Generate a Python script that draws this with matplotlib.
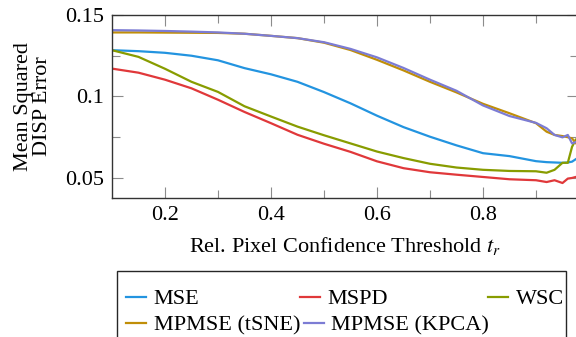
import numpy as np
import matplotlib
matplotlib.use('Agg')
import matplotlib.pyplot as plt
from matplotlib.patches import Rectangle

plt.rcParams['font.family'] = ['Liberation Serif', 'DejaVu Serif']
plt.rcParams['mathtext.fontset'] = 'stix'
plt.rcParams['font.size'] = 16

# threshold values (x)
thr = [0.10, 0.15, 0.20, 0.25, 0.30, 0.35, 0.40, 0.45, 0.50, 0.55, 0.60, 0.65,
       0.70, 0.75, 0.80, 0.85, 0.90, 0.92, 0.935, 0.95, 0.96, 0.968, 0.975]

mse = [0.1284, 0.1278, 0.1268, 0.1250, 0.1222, 0.1174, 0.1136, 0.1090, 0.1027, 0.0958,
       0.0882, 0.0812, 0.0753, 0.0700, 0.0652, 0.0634, 0.0603, 0.0597, 0.0595, 0.0593,
       0.0595, 0.0600, 0.0615]
mspd = [0.1171, 0.1146, 0.1103, 0.1050, 0.0980, 0.0905, 0.0836, 0.0765, 0.0710, 0.0660,
        0.0602, 0.0560, 0.0535, 0.0520, 0.0506, 0.0492, 0.0486, 0.0475, 0.0486, 0.0469,
        0.0496, 0.0500, 0.0506]
wsc = [0.1284, 0.1243, 0.1170, 0.1090, 0.1028, 0.0940, 0.0877, 0.0815, 0.0762, 0.0712,
       0.0662, 0.0622, 0.0587, 0.0564, 0.0550, 0.0543, 0.0541, 0.0532, 0.0550, 0.0593,
       0.0593, 0.0691, 0.0735]
mpmse_tsne = [0.1393, 0.1393, 0.1392, 0.1391, 0.1390, 0.1385, 0.1372, 0.1358, 0.1330, 0.1285,
              0.1225, 0.1160, 0.1090, 0.1025, 0.0955, 0.0897, 0.0836, 0.0784, 0.0764, 0.0757,
              0.0750, 0.0743, 0.0714]
mpmse_kpca = [0.1407, 0.1405, 0.1402, 0.1398, 0.1393, 0.1385, 0.1372, 0.1358, 0.1333, 0.1292,
              0.1240, 0.1175, 0.1103, 0.1035, 0.0945, 0.0880, 0.0838, 0.0805, 0.0764, 0.0749,
              0.0764, 0.0712, 0.0720]

xticks = [0.2, 0.4, 0.6, 0.8]
xticklabels = ['0.2', '0.4', '0.6', '0.8']
xminor = [0.3, 0.5, 0.7, 0.9]
yticks = [0.05, 0.1, 0.15]
yticklabels = ['0.05', '0.1', '0.15']
yminor = [0.075, 0.125]

colors = {'MSE': '#2394e0', 'MSPD': '#e0383a', 'WSC': '#889c00',
          'MPMSE (tSNE)': '#c08e08', 'MPMSE (KPCA)': '#7c7cd4'}

fig = plt.figure(figsize=(5.76, 3.37), dpi=100)
ax = fig.add_axes([112/576, 1 - 198/337, 466.4/576, 183/337])

lines = {}
for name, vals in [('MSE', mse), ('MSPD', mspd), ('WSC', wsc),
                   ('MPMSE (tSNE)', mpmse_tsne), ('MPMSE (KPCA)', mpmse_kpca)]:
    lines[name], = ax.plot(thr, vals, color=colors[name], lw=1.6, label=name)

ax.set_xlim(0.1, 0.98)
ax.set_ylim(0.0377, 0.15)
ax.set_xticks(xticks)
ax.set_xticklabels(xticklabels)
ax.set_xticks(xminor, minor=True)
ax.set_yticks(yticks)
ax.set_yticklabels(yticklabels)
ax.set_yticks(yminor, minor=True)
ax.tick_params(which='both', direction='in', top=True, right=True, color='0.55', width=0.8)
ax.tick_params(which='major', length=8, pad=6)
ax.tick_params(which='minor', length=5.5)
for s in ax.spines.values():
    s.set_color('0.2')
    s.set_linewidth(1.0)

ax.set_xlabel('Rel. Pixel Confidence Threshold $t_r$', labelpad=7)
ax.set_ylabel('Mean Squared\nDISP Error', linespacing=1.0)
ax.yaxis.set_label_coords(-0.128, 0.5)

# legend frame (runs off the bottom of the image)
fig.add_artist(Rectangle((117/576, -0.1), (566 - 117)/576, 0.1 + 1 - 271/337,
                         transform=fig.transFigure, fill=False, edgecolor='0.15', lw=1.0))
fig.legend([lines['MSE'], lines['MSPD'], lines['WSC']], ['MSE', 'MSPD', 'WSC'],
           loc='center left', bbox_to_anchor=(126/576, 1 - 299/337), ncol=3,
           frameon=False, borderpad=0, borderaxespad=0, handlelength=0.9,
           handletextpad=0.35, columnspacing=4.5)
fig.legend([lines['MPMSE (tSNE)'], lines['MPMSE (KPCA)']], ['MPMSE (tSNE)', 'MPMSE (KPCA)'],
           loc='center left', bbox_to_anchor=(126/576, 1 - 325/337), ncol=2,
           frameon=False, borderpad=0, borderaxespad=0, handlelength=0.9,
           handletextpad=0.35, columnspacing=0.15)

fig.savefig('out.png', dpi=100)
